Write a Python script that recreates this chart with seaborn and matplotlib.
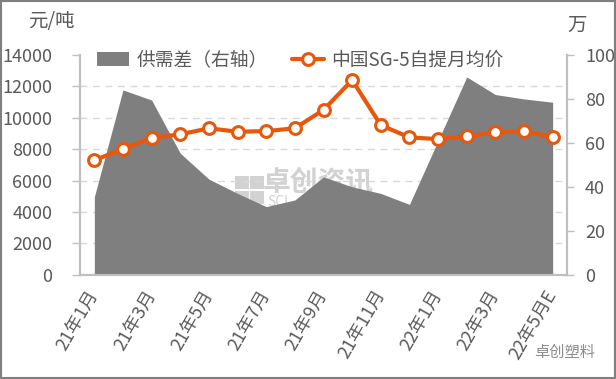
import numpy as np
import pandas as pd
import seaborn as sns
import matplotlib.pyplot as plt
from matplotlib.patches import Rectangle, Patch
from matplotlib.lines import Line2D

# data
months = ['21年1月', '21年2月', '21年3月', '21年4月', '21年5月', '21年6月',
          '21年7月', '21年8月', '21年9月', '21年10月', '21年11月', '21年12月',
          '22年1月', '22年2月', '22年3月', '22年4月', '22年5月E']
price = [7300, 8000, 8730, 8940, 9330, 9110, 9150, 9330, 10500,
         12400, 9530, 8750, 8640, 8820, 9070, 9150, 8750]
gap = [35.4, 84.1, 79.5, 55.3, 43.5, 37, 31, 34, 44.5,
       40, 37, 32, 61, 90, 82, 80, 78.5]
label_months = months[::2]

df = pd.DataFrame({'month': months, 'price': price, 'gap': gap})
df['pos'] = range(len(df))

sns.set_style('white')
plt.rcParams['font.family'] = ['Noto Sans CJK SC', 'DejaVu Sans']

txt = '#595959'
orange = '#E8580C'
grey_area = '#7F7F7F'
axis_c = '#BFBFBF'
wm = '#D2D2D2'

fig = plt.figure(figsize=(6.16, 3.79), dpi=100)
ax = fig.add_axes([80 / 616, 1 - 274.7 / 379, 487 / 616, 219.7 / 379])
ax2 = ax.twinx()

# area on right axis, drawn below the price line
ax2.fill_between(df['pos'], df['gap'], color=grey_area, lw=0, zorder=1)
ax2.set_ylim(0, 100)
ax2.set_yticks([0, 20, 40, 60, 80, 100])
ax2.set_yticks(np.linspace(0, 100, 8), minor=True)
ax2.set_axisbelow(True)
ax2.grid(False)
ax2.grid(which='minor', axis='y', color='#D9D9D9', ls=(0, (5, 4)), lw=1)
ax2.tick_params(axis='y', which='major', length=5, width=1, color=axis_c,
                labelsize=13, labelcolor=txt, pad=8)
ax2.tick_params(axis='y', which='minor', length=0)

# watermark, behind the area
ax2.text(0.49, 0.42, '卓创资讯', transform=ax2.transAxes, ha='center', va='center',
         fontsize=20, fontweight='bold', color=wm, zorder=0.3)
ax2.text(0.385, 0.33, 'SCI', transform=ax2.transAxes, ha='left', va='center',
         fontsize=10, color=wm, zorder=0.3)
for dx, dy, w in [(0, 0, 0.028), (0.032, 0, 0.028), (0, -0.07, 0.028), (0.032, -0.07, 0.028)]:
    ax2.add_patch(Rectangle((0.318 + dx, 0.39 + dy), w, 0.06, transform=ax2.transAxes,
                            color=wm, lw=0, zorder=0.3))

# price line on left axis, on top
ax.set_zorder(ax2.get_zorder() + 1)
ax.patch.set_visible(False)
sns.lineplot(data=df, x='pos', y='price', ax=ax, color=orange, lw=3,
             marker='o', markersize=8.5, markerfacecolor='white',
             markeredgecolor=orange, markeredgewidth=2.2, zorder=5)
ax.set_ylim(0, 14000)
ax.set_yticks(range(0, 14001, 2000))
ax.set_xlim(-0.5, len(months) - 0.5)
ax.set_xticks(df['pos'][::2])
ax.set_xticklabels(label_months, rotation=60, ha='right', va='center',
                   rotation_mode='anchor')
ax.set_xticks(np.arange(-0.5, len(months), 1), minor=True)
ax.tick_params(axis='x', which='major', length=0, labelsize=13,
               labelcolor=txt, pad=12)
ax.tick_params(axis='x', which='minor', length=5, width=1, color=axis_c)
ax.tick_params(axis='y', length=6, width=1, color=axis_c, labelsize=13,
               labelcolor=txt, pad=14)
ax.set_xlabel('')
ax.set_ylabel('')
ax.grid(False)

for a in (ax, ax2):
    a.spines['top'].set_visible(False)
    for s in ('left', 'right', 'bottom'):
        a.spines[s].set_color(axis_c)
        a.spines[s].set_linewidth(1.5)

handles = [Patch(color=grey_area, lw=0),
           Line2D([], [], color=orange, lw=3, marker='o', markersize=8.5,
                  markerfacecolor='white', markeredgecolor=orange,
                  markeredgewidth=2.2)]
ax.legend(handles, ['供需差（右轴）', '中国SG-5自提月均价'], ncol=2,
          loc='center left', bbox_to_anchor=(0.02, 0.977), frameon=False,
          fontsize=13.5, labelcolor=txt, handlelength=1.7, handletextpad=0.4,
          columnspacing=1.3, borderaxespad=0)

fig.text(28 / 616, 1 - 22 / 379, '元/吨', fontsize=14, color=txt,
         ha='left', va='center')
fig.text(567 / 616, 1 - 25 / 379, '万', fontsize=14, color=txt,
         ha='left', va='center')
fig.text(595 / 616, 1 - 352 / 379, '卓创塑料', fontsize=11, color='#8C8C8C',
         ha='right', va='center')

fig.patches.append(Rectangle((0.001, 0.002), 0.997, 0.996, transform=fig.transFigure,
                             fill=False, ec='#7F7F7F', lw=1.5))

fig.savefig('out.png', dpi=100)
